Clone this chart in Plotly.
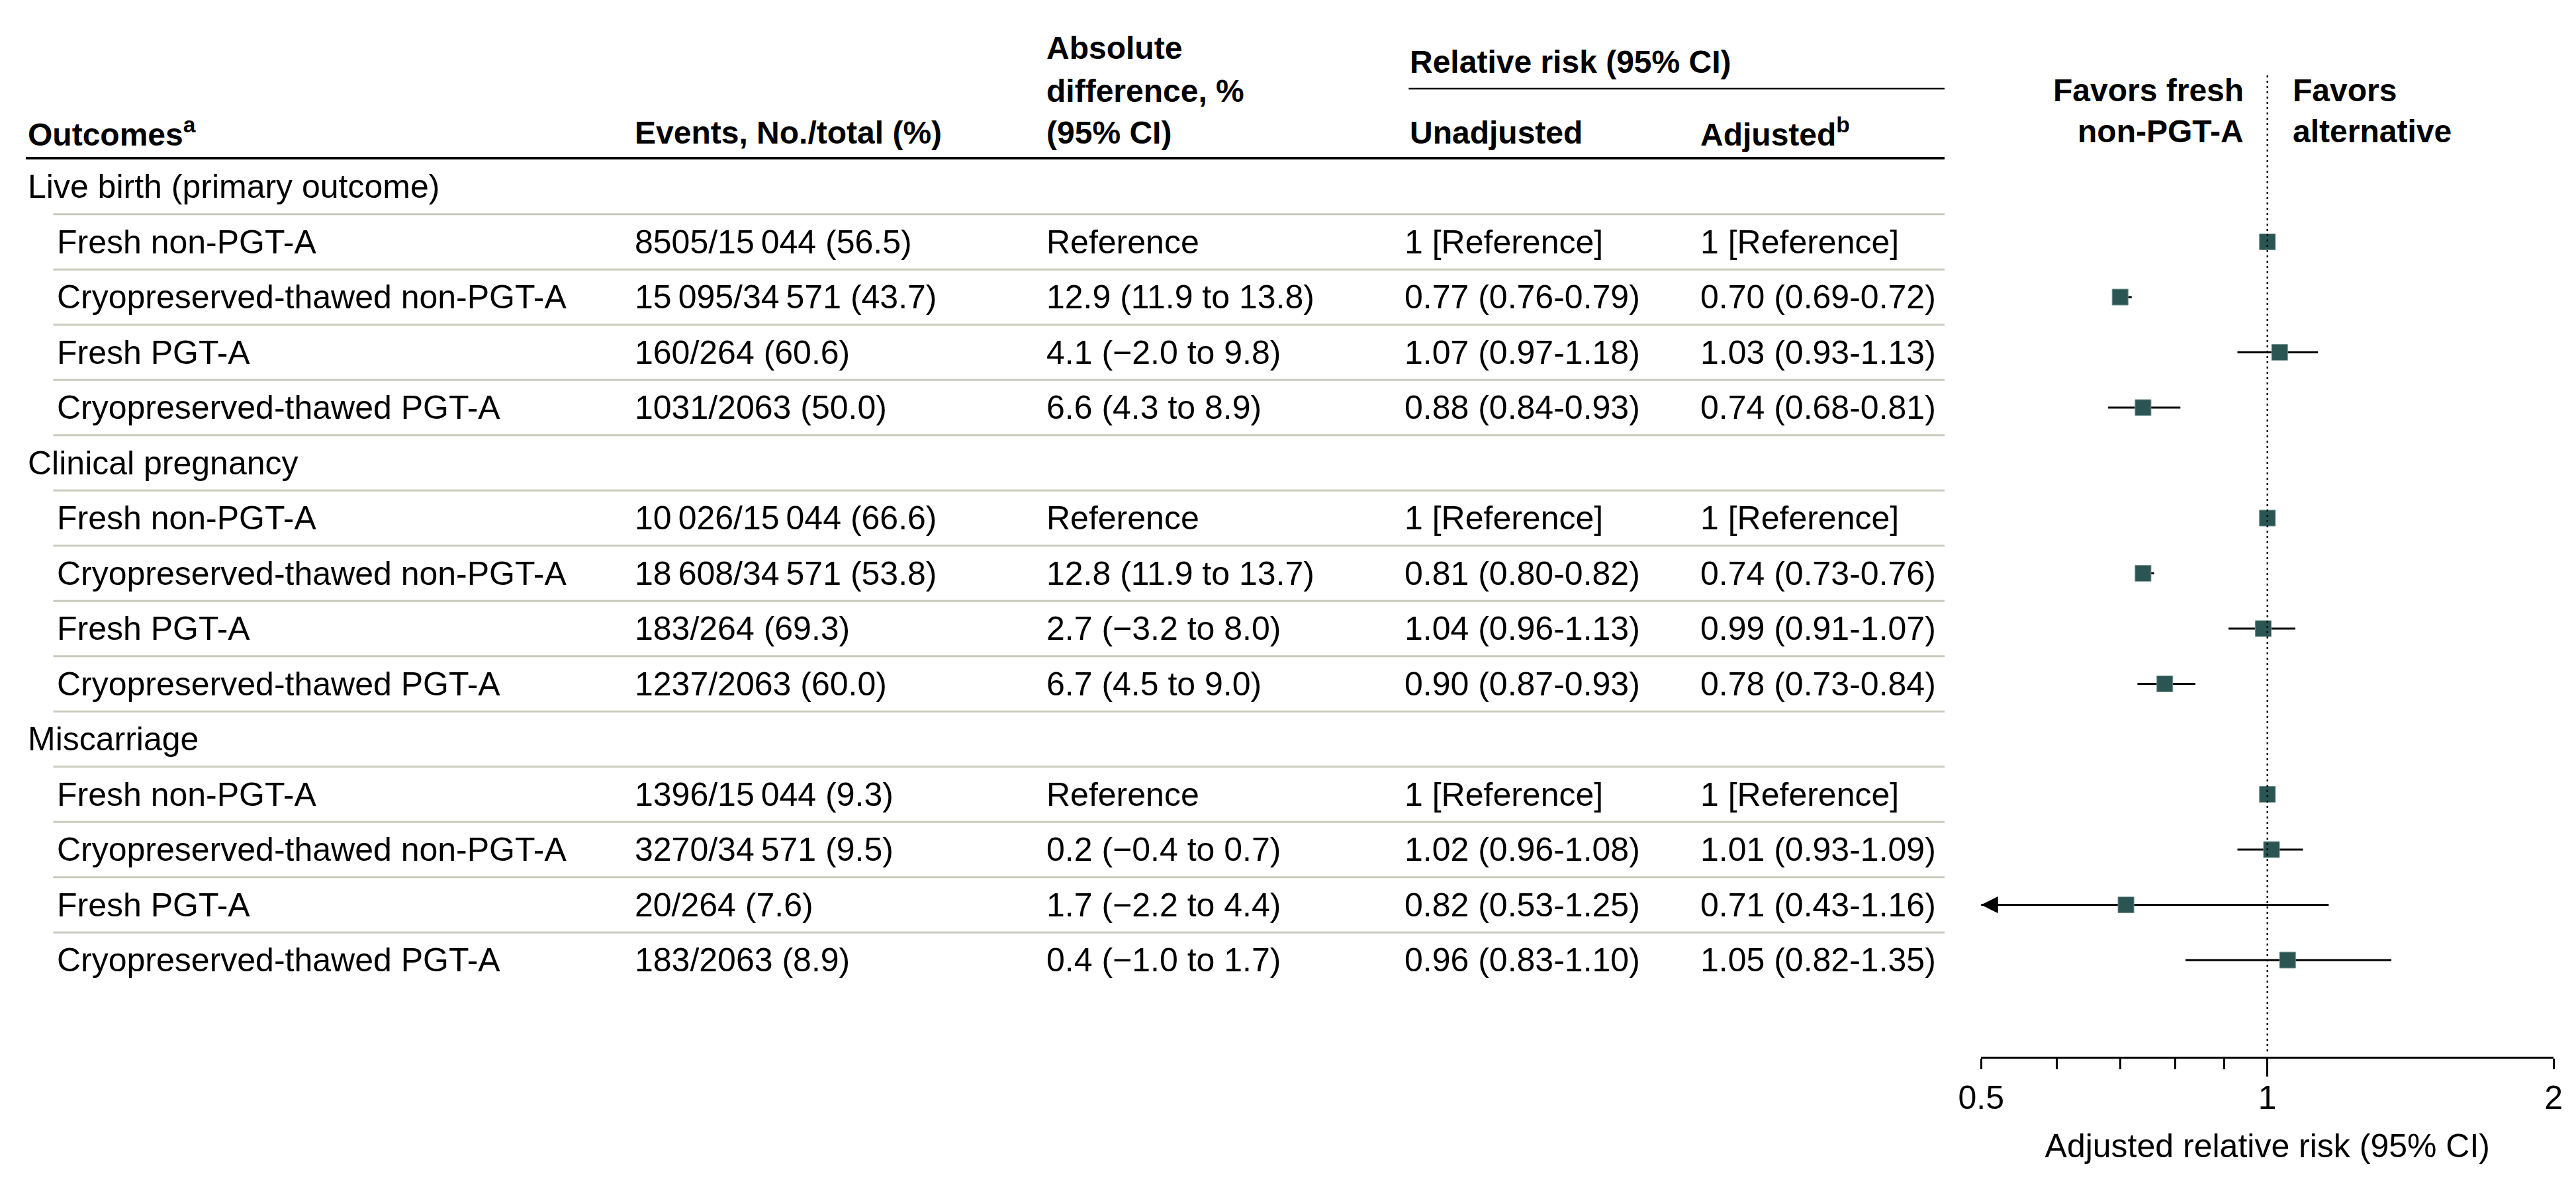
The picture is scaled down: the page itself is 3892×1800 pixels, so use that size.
import numpy as np
import plotly.graph_objects as go

W, H = 3892, 1800
FONT = "Liberation Sans, Arial, sans-serif"
INK = "#000000"
MARK = "#2b5553"
RULE = "#c9cbbd"

groups = ["Live birth (primary outcome)", "Clinical pregnancy", "Miscarriage"]
arms = ["Fresh non-PGT-A", "Cryopreserved-thawed non-PGT-A",
        "Fresh PGT-A", "Cryopreserved-thawed PGT-A"]

events = ["8505/15\u2009044 (56.5)", "15\u2009095/34\u2009571 (43.7)", "160/264 (60.6)", "1031/2063 (50.0)",
          "10\u2009026/15\u2009044 (66.6)", "18\u2009608/34\u2009571 (53.8)", "183/264 (69.3)", "1237/2063 (60.0)",
          "1396/15\u2009044 (9.3)", "3270/34\u2009571 (9.5)", "20/264 (7.6)", "183/2063 (8.9)"]
abs_diff = ["Reference", "12.9 (11.9 to 13.8)", "4.1 (\u22122.0 to 9.8)", "6.6 (4.3 to 8.9)",
            "Reference", "12.8 (11.9 to 13.7)", "2.7 (\u22123.2 to 8.0)", "6.7 (4.5 to 9.0)",
            "Reference", "0.2 (\u22120.4 to 0.7)", "1.7 (\u22122.2 to 4.4)", "0.4 (\u22121.0 to 1.7)"]
rr_unadj = ["1 [Reference]", "0.77 (0.76-0.79)", "1.07 (0.97-1.18)", "0.88 (0.84-0.93)",
            "1 [Reference]", "0.81 (0.80-0.82)", "1.04 (0.96-1.13)", "0.90 (0.87-0.93)",
            "1 [Reference]", "1.02 (0.96-1.08)", "0.82 (0.53-1.25)", "0.96 (0.83-1.10)"]
rr_adj = [1.00, 0.70, 1.03, 0.74, 1.00, 0.74, 0.99, 0.78, 1.00, 1.01, 0.71, 1.05]
rr_lo = [None, 0.69, 0.93, 0.68, None, 0.73, 0.91, 0.73, None, 0.93, 0.43, 0.82]
rr_hi = [None, 0.72, 1.13, 0.81, None, 0.76, 1.07, 0.84, None, 1.09, 1.16, 1.35]

x_ticks = [0.5, 0.6, 0.7, 0.8, 0.9, 1, 2]
x_labels = ["0.5", "", "", "", "", "1", "2"]
x_min, x_max = 0.5, 2
ref_value = 1

# page geometry (pixels)
row_top, row_pitch, axis_px = 282, 83.5, 1597
col_label, col_sub, col_events, col_abs, col_unadj, col_adj, table_right = 5, 50, 934, 1564, 2112, 2564, 2940


def px(x):
    return x / W


def py(y):
    return 1 - y / H


def row_of(y):
    return (y - row_top) / row_pitch


# build table rows
rows = []
k = 0
for g in groups:
    rows.append(("group", g, None))
    for a in arms:
        rows.append(("arm", a, k))
        k += 1

fig = go.Figure()
ann = []


def text(x, y, s, bold=False, xanchor="left", yref="y", size=50):
    ann.append(dict(x=px(x), y=y, xref="paper", yref=yref, text=s, showarrow=False,
                    xanchor=xanchor, yanchor="middle", align=xanchor,
                    font=dict(family=FONT, size=48 if bold else size, color=INK,
                              weight="bold" if bold else "normal")))


# header
text(col_label, py(200), "Outcomes<sup>a</sup>", True, yref="paper")
text(col_events, py(200), "Events, No./total (%)", True, yref="paper")
text(col_abs, py(72), "Absolute", True, yref="paper")
text(col_abs, py(137), "difference, %", True, yref="paper")
text(col_abs, py(200), "(95% CI)", True, yref="paper")
text(col_unadj + 8, py(94), "Relative risk (95% CI)", True, yref="paper")
text(col_unadj + 8, py(200), "Unadjusted", True, yref="paper")
text(col_adj, py(200), "Adjusted<sup>b</sup>", True, yref="paper")

shapes = [
    dict(type="line", xref="paper", yref="paper", x0=px(4), x1=px(table_right),
         y0=py(239), y1=py(239), line=dict(color=INK, width=4)),
    dict(type="line", xref="paper", yref="paper", x0=px(col_unadj + 8), x1=px(table_right),
         y0=py(134), y1=py(134), line=dict(color=INK, width=2.5)),
]

for i, (kind, label, j) in enumerate(rows):
    if kind == "group":
        text(col_label, i, label)
    else:
        text(col_sub, i, label)
        text(col_events, i, events[j])
        text(col_abs, i, abs_diff[j])
        text(col_unadj, i, rr_unadj[j])
        if rr_lo[j] is None:
            adj = "1 [Reference]"
        else:
            adj = f"{rr_adj[j]:.2f} ({rr_lo[j]:.2f}-{rr_hi[j]:.2f})"
        text(col_adj, i, adj)
    if i < len(rows) - 1:
        shapes.append(dict(type="line", xref="paper", yref="y", x0=px(46), x1=px(table_right),
                           y0=i + 0.5, y1=i + 0.5, line=dict(color=RULE, width=3)))

# favors labels
text(3400, py(136), "Favors fresh", True, "right", yref="paper")
text(3400, py(199), "non-PGT-A", True, "right", yref="paper")
text(3471, py(136), "Favors", True, "left", yref="paper")
text(3471, py(199), "alternative", True, "left", yref="paper")

# forest plot
arm_rows = [i for i, r in enumerate(rows) if r[0] == "arm"]
y_bottom = row_of(axis_px)
y_top = row_of(0)

fig.add_trace(go.Scatter(x=[ref_value, ref_value], y=[row_of(114), row_of(axis_px - 8)],
                         mode="lines", xaxis="x2",
                         line=dict(color=INK, width=2.5, dash="3px,5px"), hoverinfo="skip"))

cx, cy = [], []
for j, i in enumerate(arm_rows):
    if rr_lo[j] is not None:
        cx += [rr_lo[j], rr_hi[j], None]
        cy += [i, i, None]
        if rr_lo[j] < x_min:
            ann.append(dict(x=np.log10(x_min), y=i, xref="x", yref="y",
                            ax=np.log10(x_min) + 0.04, ay=i, axref="x", ayref="y",
                            text="", showarrow=True, arrowhead=2, arrowsize=1.7,
                            arrowwidth=3, arrowcolor=INK))
fig.add_trace(go.Scatter(x=cx, y=cy, mode="lines", line=dict(color=INK, width=3),
                         hoverinfo="skip"))
fig.add_trace(go.Scatter(x=rr_adj, y=arm_rows, mode="markers",
                         marker=dict(symbol="square", size=24, color=MARK,
                                     line=dict(color="#6f8f8d", width=1))))

x_common = dict(domain=[px(2996), px(3872)], type="log",
                range=[np.log10(x_min), np.log10(x_max)],
                showgrid=False, zeroline=False)

fig.update_layout(
    width=W, height=H, margin=dict(l=0, r=0, t=0, b=0),
    paper_bgcolor="white", plot_bgcolor="white", showlegend=False,
    font=dict(family=FONT, size=50, color=INK),
    annotations=ann, shapes=shapes,
    xaxis=dict(**x_common, tickvals=x_ticks, ticktext=x_labels, ticks="outside", ticklen=16,
               tickwidth=3, tickcolor=INK, showline=True, linewidth=3, linecolor=INK,
               tickfont=dict(size=50),
               title=dict(text="Adjusted relative risk (95% CI)", font=dict(size=50),
                          standoff=28)),
    xaxis2=dict(**x_common, overlaying="x", anchor="y", side="bottom",
                tickvals=[ref_value], ticks="outside", ticklen=29, tickwidth=3,
                tickcolor=INK, showticklabels=False, showline=False),
    yaxis=dict(domain=[py(axis_px), 1], range=[y_bottom, y_top], visible=False,
               showgrid=False, zeroline=False),
)

fig.write_html("out.html", config={"displayModeBar": False},
               post_script="document.body.style.margin='0';")
